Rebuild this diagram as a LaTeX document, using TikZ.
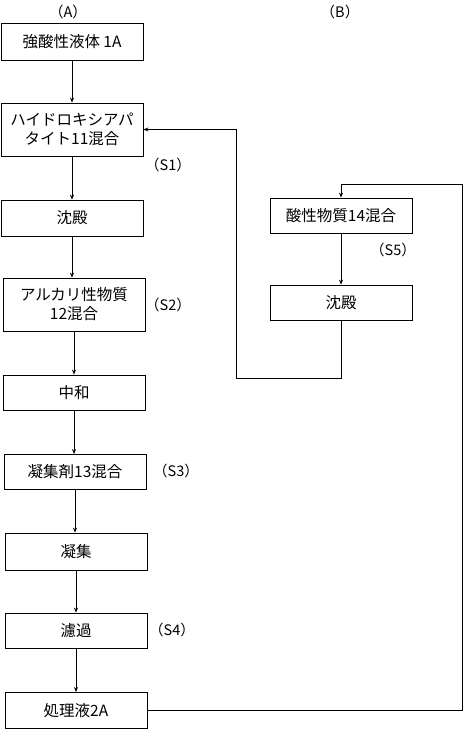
\documentclass[tikz,border=0pt]{standalone}
\usepackage{fontspec}
\setmainfont{Noto Sans CJK JP}
\usetikzlibrary{arrows.meta}
\begin{document}
\begin{tikzpicture}[x=1pt,y=-1pt,
  box/.style={draw,line width=0.8pt,minimum width=142pt,inner sep=0pt,align=center,font=\fontsize{15.5}{19}\selectfont},
  lab/.style={font=\fontsize{14.5}{16}\selectfont},
  arr/.style={line width=0.8pt,-{Stealth[length=5pt,width=4pt]}},
  ln/.style={line width=0.8pt}]
\useasboundingbox (0,0) rectangle (475,730);
\node[lab] (LA) at (68,12) {（A）};
\node[lab] (LB) at (340,12) {（B）};
\node[box,minimum height=37pt] (a1) at (72,42) {強酸性液体 1A};
\node[box,minimum height=53pt] (a2) at (72,129.5) {ハイドロキシアパ\\タイト11混合};
\node[box,minimum height=36pt] (a3) at (72,218) {沈殿};
\node[box,minimum height=53pt] (a4) at (74,304.5) {アルカリ性物質\\12混合};
\node[box,minimum height=35pt] (a5) at (74,392.5) {中和};
\node[box,minimum height=35pt] (a6) at (75,472) {凝集剤13混合};
\node[box,minimum height=37pt] (a7) at (76,551.5) {凝集};
\node[box,minimum height=35pt] (a8) at (76,630.5) {濾過};
\node[box,minimum height=36pt] (a9) at (76,710.5) {処理液2A};
\node[box,minimum height=35pt] (b1) at (341,215.5) {酸性物質14混合};
\node[box,minimum height=35pt] (b2) at (341,302.5) {沈殿};
\node[lab] (s1) at (168,165) {（S1）};
\node[lab] (s2) at (168,305) {（S2）};
\node[lab] (s3) at (176,471) {（S3）};
\node[lab] (s4) at (172,630) {（S4）};
\node[lab] (s5) at (393,250) {（S5）};
\draw[arr] (a1.south) -- (a2.north);
\draw[arr] (a2.south) -- (a3.north);
\draw[arr] (a3.south) -- (a3.south |- a4.north);
\draw[arr] (a4.south) -- (a5.north);
\draw[arr] (a5.south) -- (a5.south |- a6.north);
\draw[arr] (a6.south) -- (a6.south |- a7.north);
\draw[arr] (a7.south) -- (a8.north);
\draw[arr] (a8.south) -- (a9.north);
\draw[arr] (b1.south) -- (b2.north);
\coordinate (f1) at (341,378);
\coordinate (f2) at (236,378);
\draw[arr] (b2.south) -- (f1) -- (f2) |- (a2.east);
\coordinate (r1) at (462,710.5);
\coordinate (r2) at (462,184);
\draw[arr] (a9.east) -- (r1) -- (r2) -| (b1.north);
\end{tikzpicture}
\end{document}
